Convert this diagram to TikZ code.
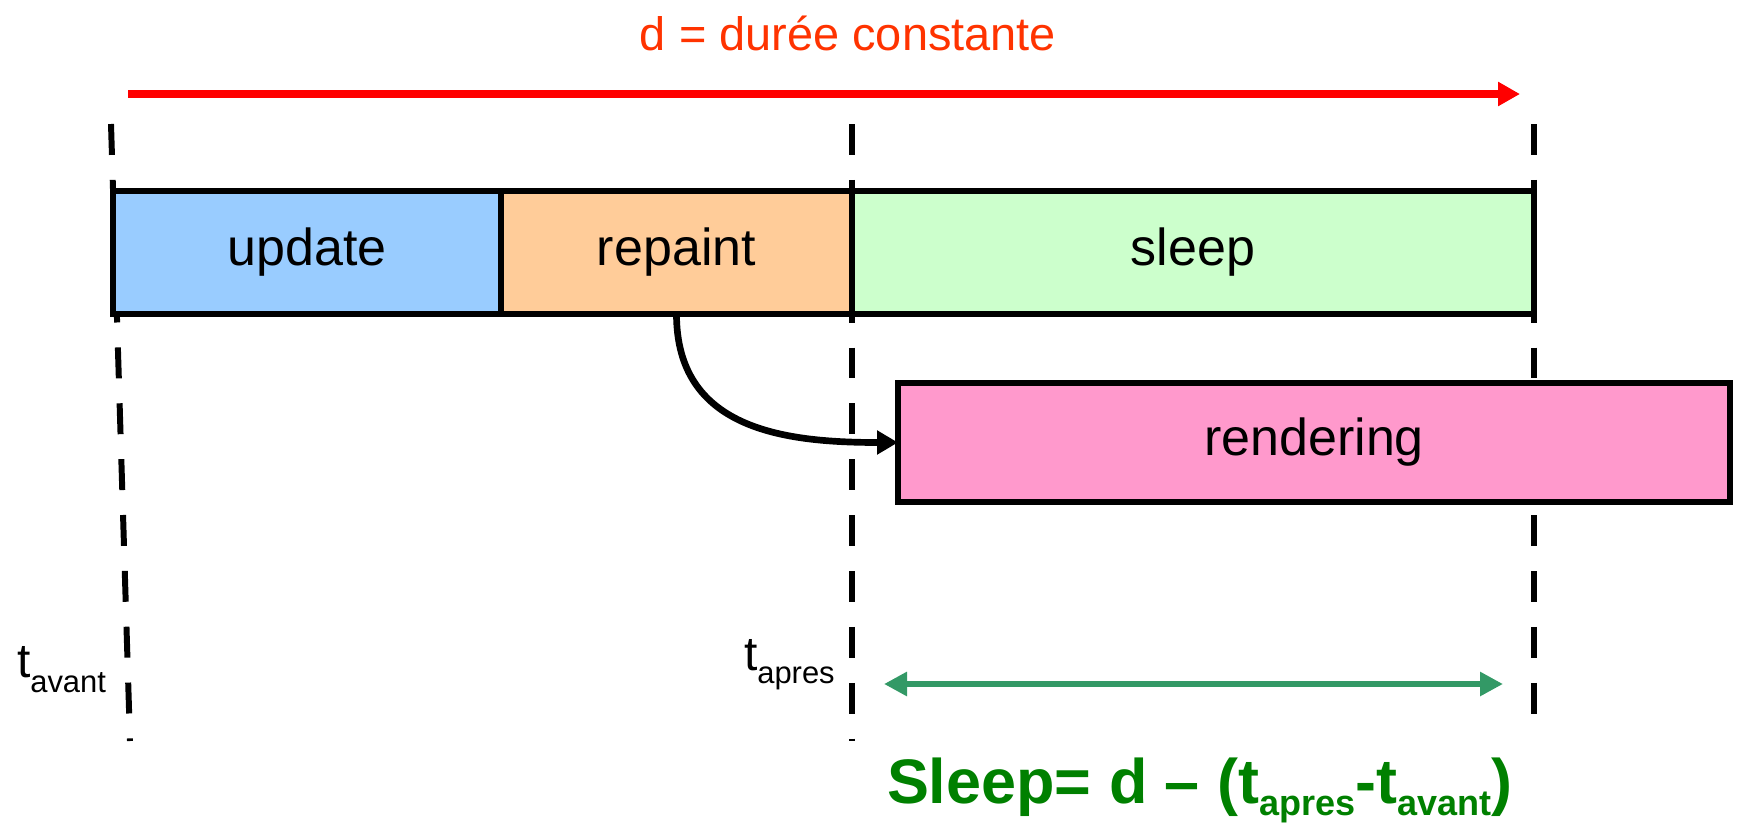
\documentclass[tikz,border=0pt]{standalone}
\usepackage{fontspec}
\setmainfont{Liberation Sans}
\usetikzlibrary{arrows.meta}

\definecolor{updfill}{HTML}{99CCFF}
\definecolor{repfill}{HTML}{FFCC99}
\definecolor{slpfill}{HTML}{CCFFCC}
\definecolor{renfill}{HTML}{FF99CC}
\definecolor{titlered}{HTML}{FF3300}
\definecolor{spangreen}{HTML}{339966}
\definecolor{formgreen}{HTML}{008000}

% t with a lowered index, size and drop given
\newcommand{\tidx}[3]{t\raisebox{#3}{\fontsize{#2}{#2}\selectfont #1}}

\begin{document}
\begin{tikzpicture}[
  phase/.style={draw, line width=3.8pt, inner sep=0pt, outer sep=0pt, minimum height=2.46cm,
    font=\fontsize{29.6}{34}\selectfont},
  timeline/.style={line width=3.4pt, dash pattern=on 17.6pt off 14.2pt},
  label/.style={inner sep=0pt, outer sep=0pt}
]
\useasboundingbox (0,0) rectangle (34.78,-16.48);

% time marks
\draw[timeline] (2.22,-2.48) -- (2.6,-14.82);
\draw[timeline] (17.04,-2.48) -- (17.04,-14.82);
\draw[timeline] (30.68,-2.48) -- (30.68,-14.3);

% total duration
\node[label, anchor=base, text=titlered, font=\fontsize{26.7}{30}\selectfont] at (16.96,-1.0) (titre) {d = durée constante};
\coordinate (dl) at (2.56,-1.88);
\coordinate (dr) at (30.4,-1.88);
\draw[-{Triangle[length=0.44cm, width=0.46cm]}, red, line width=4.4pt] (dl) -- (dr);

% frame phases
\node[phase, fill=updfill, minimum width=7.76cm] at (6.14,-5.05) (upd) {update};
\node[phase, fill=repfill, minimum width=7.02cm] at (13.53,-5.05) (rep) {repaint};
\node[phase, fill=slpfill, minimum width=13.64cm] at (23.86,-5.05) (slp) {sleep};
\node[phase, fill=renfill, minimum width=16.64cm, minimum height=2.38cm] at (26.28,-8.85) (ren) {rendering};

\draw[-{Triangle[length=0.42cm, width=0.46cm]}, line width=3.8pt]
  (rep.south) to[out=-90, in=180, looseness=1.15] (ren.west);

% instants
\node[label, anchor=base west, font=\fontsize{27.3}{30}\selectfont] at (0.34,-13.54) (tav) {\tidx{avant}{17.6}{-0.3cm}};
\node[label, anchor=base west, font=\fontsize{27.3}{30}\selectfont] at (14.88,-13.4) (tap) {\tidx{apres}{17.6}{-0.27cm}};

% sleep time
\coordinate (sl) at (17.68,-13.68);
\coordinate (sr) at (30.06,-13.68);
\draw[{Triangle[length=0.46cm, width=0.46cm]}-{Triangle[length=0.46cm, width=0.46cm]}, spangreen, line width=3.4pt] (sl) -- (sr);

\node[label, anchor=base west, text=formgreen, font=\fontsize{35.8}{40}\selectfont\bfseries] at (17.74,-16.06) (form)
  {Sleep= d – (\tidx{apres}{20.5}{-0.24cm}-\tidx{avant}{20.5}{-0.24cm})};
\end{tikzpicture}
\end{document}
